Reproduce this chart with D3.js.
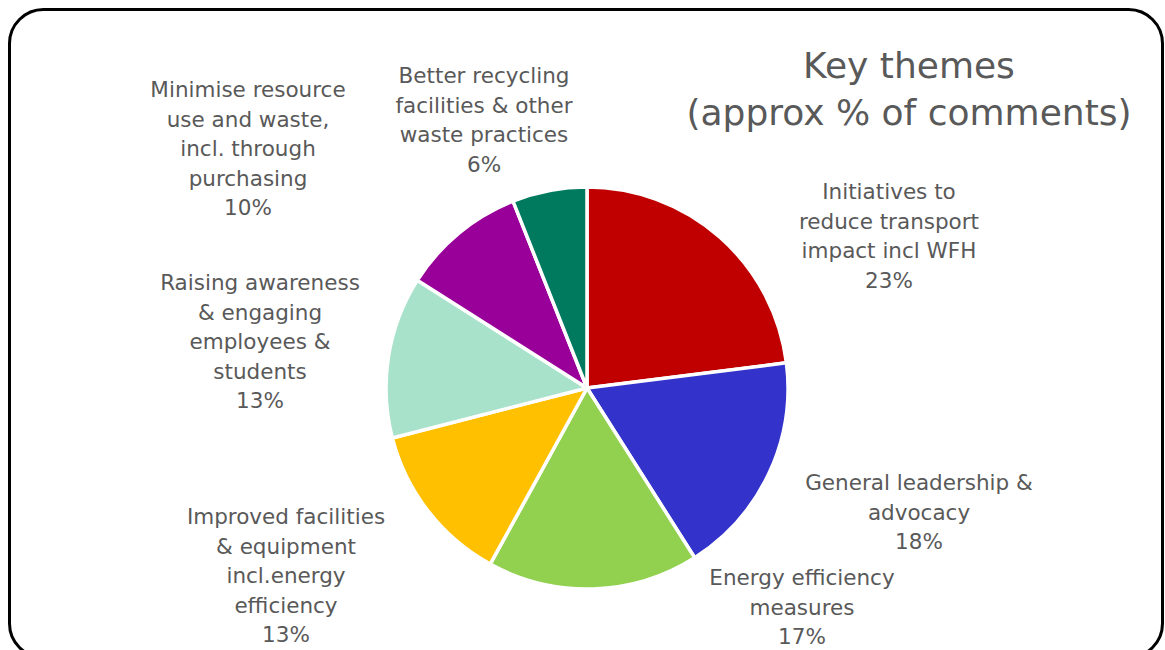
<!DOCTYPE html>
<html>
<head>
<meta charset="utf-8">
<script src="https://cdn.jsdelivr.net/npm/d3@7"></script>
<style>
  html, body { margin: 0; padding: 0; background: #fff; }
  svg { display: block; }
  text { font-family: "DejaVu Sans", sans-serif; fill: #595959; }
</style>
</head>
<body>
<svg id="chart" width="1165" height="650"></svg>
<script>
// Key themes from comments, approximate share of comments (%)
const themes = [
  ["Initiatives to", "reduce transport", "impact incl WFH"],
  ["General leadership &", "advocacy"],
  ["Energy efficiency", "measures"],
  ["Improved facilities", "& equipment", "incl.energy", "efficiency"],
  ["Raising awareness", "& engaging", "employees &", "students"],
  ["Minimise resource", "use and waste,", "incl. through", "purchasing"],
  ["Better recycling", "facilities & other", "waste practices"]
];
const shares = [23, 18, 17, 13, 13, 10, 6];
const colours = ["#C00000", "#3333CC", "#92D050", "#FFC000", "#A9E2CB", "#990099", "#007A5E"];

const svg = d3.select("#chart");

// Rounded frame
svg.append("rect")
  .attr("x", 9.5).attr("y", 9.5)
  .attr("width", 1153).attr("height", 648)
  .attr("rx", 34).attr("ry", 34)
  .attr("fill", "none").attr("stroke", "#000").attr("stroke-width", 3);

// Title
const title = svg.append("text")
  .attr("text-anchor", "middle")
  .style("font-size", "36px");
title.append("tspan").attr("x", 909).attr("y", 78).text("Key themes");
title.append("tspan").attr("x", 909).attr("y", 125).text("(approx % of comments)");

const cx = 587, cy = 388, R = 201;
const data = shares.map((v, i) => ({ label: themes[i], value: v, colour: colours[i] }));

const pie = d3.pie().value(d => d.value).sort(null);
const arc = d3.arc().innerRadius(0).outerRadius(R);
const arcs = pie(data);

const g = svg.append("g").attr("transform", `translate(${cx},${cy})`);
g.selectAll("path.slice")
  .data(arcs)
  .join("path")
  .attr("class", "slice")
  .attr("d", arc)
  .attr("fill", d => d.data.colour)
  .attr("stroke", "#fff")
  .attr("stroke-width", 3.5)
  .attr("stroke-linejoin", "round");

// Label anchor points: centre x and first baseline y for each slice label
const labelPos = [
  [889, 199], [919, 490], [802, 585], [286, 524], [260, 290], [248, 97], [484, 83]
];
const lineH = 29.5;

g.selectAll("text.lbl")
  .data(arcs)
  .join("text")
  .attr("class", "lbl")
  .attr("text-anchor", "middle")
  .style("font-size", "21.5px")
  .each(function (d, i) {
    const t = d3.select(this);
    const [lx, ly] = labelPos[i];
    const lines = d.data.label.concat([d.data.value + "%"]);
    lines.forEach((ln, k) => {
      t.append("tspan")
        .attr("x", lx - cx)
        .attr("y", ly - cy + k * lineH)
        .text(ln);
    });
  });
</script>
</body>
</html>
